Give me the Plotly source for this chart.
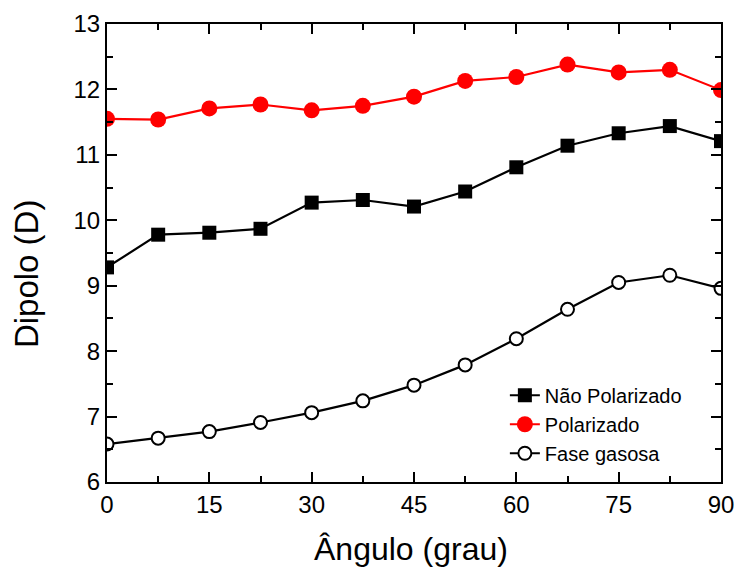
import plotly.graph_objects as go

# Rotation angle (degrees) and dipole moment (Debye)
angulo = [0, 7.5, 15, 22.5, 30, 37.5, 45, 52.5, 60, 67.5, 75, 82.5, 90]
nao_polarizado = [9.28, 9.78, 9.81, 9.87, 10.27, 10.31, 10.21, 10.44, 10.81, 11.14, 11.33, 11.44, 11.21]
polarizado = [11.55, 11.54, 11.71, 11.77, 11.68, 11.75, 11.89, 12.13, 12.19, 12.38, 12.26, 12.30, 11.99]
fase_gasosa = [6.58, 6.67, 6.77, 6.91, 7.06, 7.24, 7.48, 7.79, 8.19, 8.64, 9.05, 9.16, 8.96]

x_ticks = [0, 15, 30, 45, 60, 75, 90]
y_ticks = [6, 7, 8, 9, 10, 11, 12, 13]
x_minor = [7.5, 22.5, 37.5, 52.5, 67.5, 82.5]
y_minor = [6.5, 7.5, 8.5, 9.5, 10.5, 11.5, 12.5]

FONT = "Liberation Sans, Arial, sans-serif"

fig = go.Figure()
fig.add_trace(go.Scatter(
    x=angulo, y=nao_polarizado, mode="lines+markers", name="Não Polarizado",
    line=dict(color="black", width=2.2),
    marker=dict(symbol="square", size=14, color="black"),
))
fig.add_trace(go.Scatter(
    x=angulo, y=polarizado, mode="lines+markers", name="Polarizado",
    line=dict(color="#ff0000", width=2.2),
    marker=dict(symbol="circle", size=16, color="#ff0000"),
))
fig.add_trace(go.Scatter(
    x=angulo, y=fase_gasosa, mode="lines+markers", name="Fase gasosa",
    line=dict(color="black", width=2.2),
    marker=dict(symbol="circle", size=13, color="white", line=dict(color="black", width=2)),
))

axis_common = dict(
    showline=True, linecolor="black", linewidth=2, mirror="allticks",
    ticks="inside", ticklen=10, tickwidth=2, tickcolor="black",
    showgrid=False, zeroline=False, automargin=False,
    ticklabeloverflow="allow",
    tickfont=dict(family=FONT, size=24, color="black"),
)

fig.update_xaxes(
    range=[0, 90], tickvals=x_ticks,
    minor=dict(ticks="inside", tickvals=x_minor, ticklen=6, tickwidth=2, tickcolor="black"),
    **axis_common,
)
fig.update_yaxes(
    range=[6, 13], tickvals=y_ticks,
    minor=dict(ticks="inside", tickvals=y_minor, ticklen=6, tickwidth=2, tickcolor="black"),
    **axis_common,
)

# Axis titles
fig.add_annotation(
    text="Ângulo (grau)", xref="paper", yref="paper", x=0.495, y=-0.146,
    xanchor="center", yanchor="middle", showarrow=False,
    font=dict(family=FONT, size=32, color="black"),
)
fig.add_annotation(
    text="Dipolo (D)", xref="paper", yref="paper", x=-0.132, y=0.456,
    xanchor="center", yanchor="middle", textangle=-90, showarrow=False,
    font=dict(family=FONT, size=33, color="black"),
)

fig.update_layout(
    width=734, height=570,
    margin=dict(l=107, r=13, t=24, b=88),
    paper_bgcolor="white", plot_bgcolor="white",
    showlegend=True,
    legend=dict(
        x=0.648, y=0.232, xanchor="left", yanchor="top",
        bgcolor="rgba(0,0,0,0)", borderwidth=0,
        font=dict(family=FONT, size=20, color="black"),
        tracegroupgap=0,
    ),
)

fig.write_html("out.html")
